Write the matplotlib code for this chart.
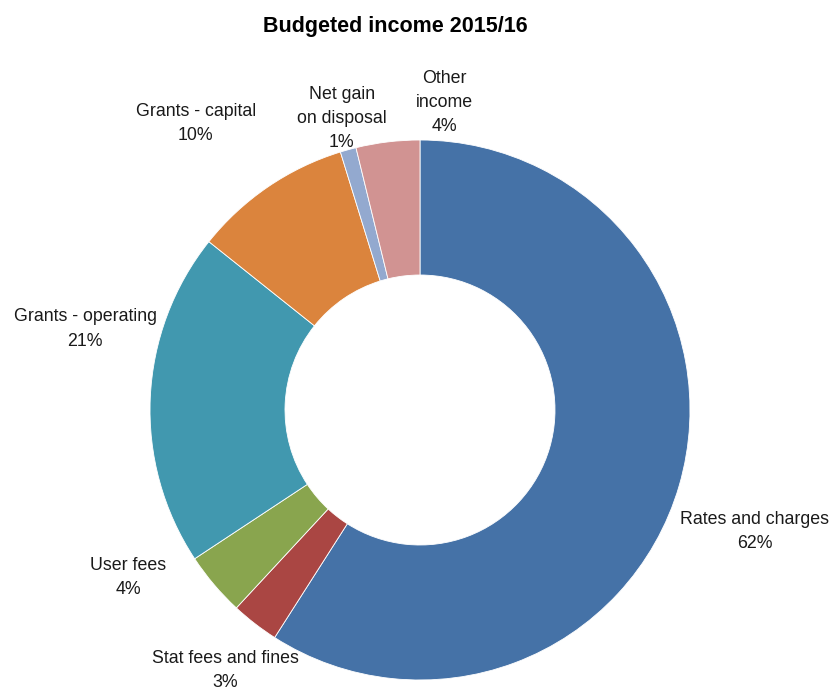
import matplotlib.pyplot as plt

plt.rcParams['font.family'] = ['Liberation Sans', 'DejaVu Sans']

categories = ['Rates and charges', 'Stat fees and fines', 'User fees',
              'Grants - operating', 'Grants - capital',
              'Net gain\non disposal', 'Other\nincome']
shares = [62, 3, 4, 21, 10, 1, 4]
colors = ['#4572A7', '#AA4643', '#89A54E', '#4198AF', '#DB843D',
          '#93A9CF', '#D19392']

# label anchor points, in units of the outer radius from the centre
label_pos = [(1.24, -0.45), (-0.72, -0.965), (-1.08, -0.62), (-1.24, 0.30),
             (-0.83, 1.06), (-0.29, 1.08), (0.09, 1.14)]

fig = plt.figure(figsize=(8.35, 6.95), dpi=100)
ax = fig.add_axes([0, 0, 1, 1])

ax.pie(shares, colors=colors, startangle=90, counterclock=False,
       radius=1.0, wedgeprops=dict(width=0.5, edgecolor='white', linewidth=0.6))

for name, val, (x, y) in zip(categories, shares, label_pos):
    ax.text(x, y, f'{name}\n{val}%', ha='center', va='center',
            fontsize=12.8, linespacing=1.55, color='#1a1a1a')

ax.set_xlim(-420 / 270, 415 / 270)
ax.set_ylim(-285 / 270, 410 / 270)
ax.set_aspect('auto')
ax.axis('off')

fig.text(0.473, 0.962, 'Budgeted income 2015/16', ha='center', va='center',
         fontsize=15.5, fontweight='bold')

fig.savefig('out.png', dpi=100)
